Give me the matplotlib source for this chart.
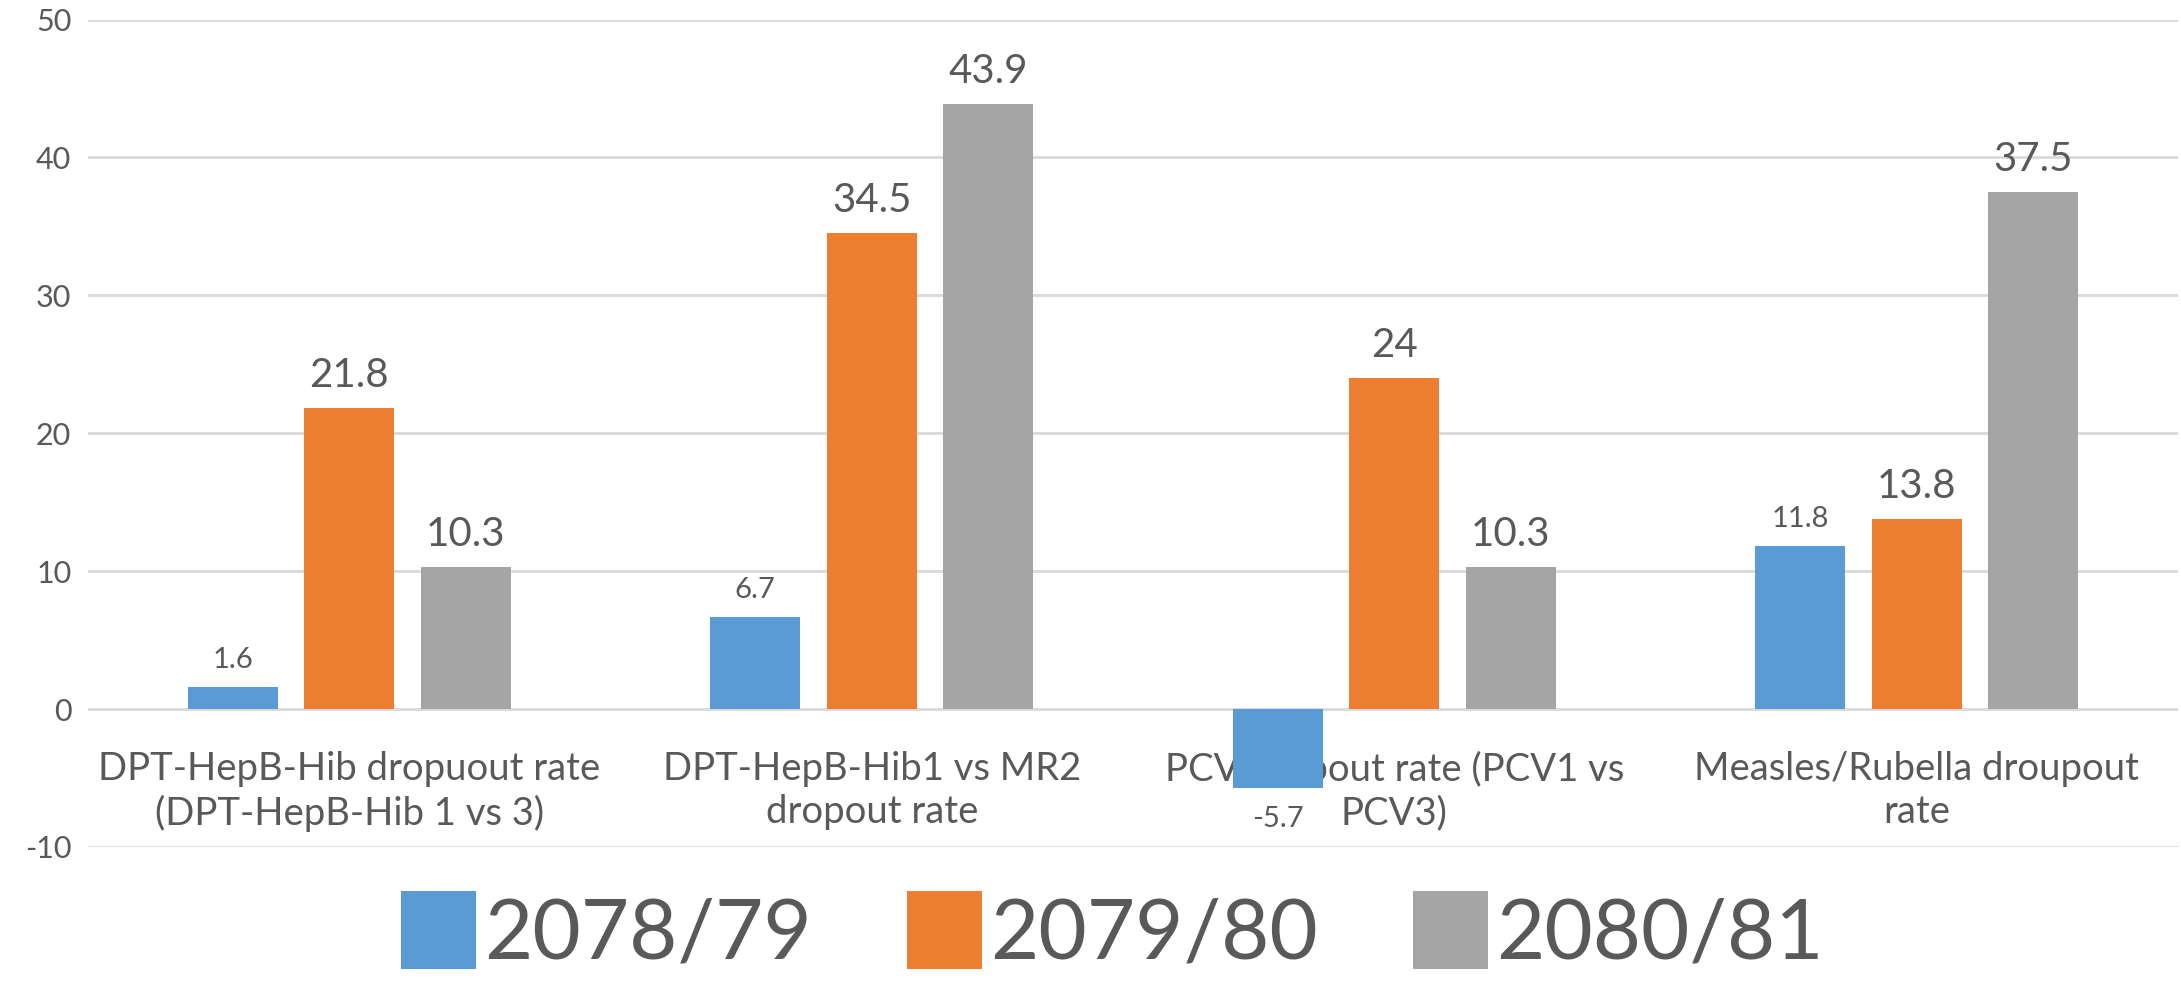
import matplotlib
matplotlib.use("Agg")
import matplotlib.pyplot as plt
from matplotlib.patches import Patch
import numpy as np

categories = ["DPT-HepB-Hib dropuout rate\n(DPT-HepB-Hib 1 vs 3)",
              "DPT-HepB-Hib1 vs MR2\ndropout rate",
              "PCV dropout rate (PCV1 vs\nPCV3)",
              "Measles/Rubella droupout\nrate"]
series_names = ["2078/79", "2079/80", "2080/81"]
v_2078 = [1.6, 6.7, -5.7, 11.8]
v_2079 = [21.8, 34.5, 24, 13.8]
v_2080 = [10.3, 43.9, 10.3, 37.5]
label_2078 = ["1.6", "6.7", "-5.7", "11.8"]
label_2079 = ["21.8", "34.5", "24", "13.8"]
label_2080 = ["10.3", "43.9", "10.3", "37.5"]
yticks = [-10, 0, 10, 20, 30, 40, 50]

colors = ["#5B9BD5", "#ED7D31", "#A5A5A5"]
txt = "#595959"
plt.rcParams["font.family"] = ["Lato", "DejaVu Sans"]

fig = plt.figure(figsize=(21.81, 9.91), dpi=100)
ax = fig.add_axes([88/2181, 1 - 847/991, 1 - 88/2181 - 3/2181, (847 - 19.5)/991])

x = np.arange(len(categories))
w = 0.173
step = 0.223
series = [v_2078, v_2079, v_2080]
labels = [label_2078, label_2079, label_2080]
sizes = [21, 29, 29]
for i, (vals, labs) in enumerate(zip(series, labels)):
    xs = x + (i - 1) * step
    ax.bar(xs, vals, width=w, color=colors[i], zorder=3)
    for xi, v, lab in zip(xs, vals, labs):
        if v >= 0:
            ax.annotate(lab, (xi, v), xytext=(0, 14), textcoords="offset pixels",
                        ha="center", va="bottom", fontsize=sizes[i], color=txt, zorder=4)
        else:
            ax.annotate(lab, (xi, v), xytext=(0, -18), textcoords="offset pixels",
                        ha="center", va="top", fontsize=sizes[i], color=txt, zorder=4)

ax.set_xlim(-0.5, 3.5)
ax.set_ylim(-10, 50)
ax.set_yticks(yticks)
ax.set_yticklabels([str(t) for t in yticks])
ax.tick_params(axis="y", length=0, labelsize=22, labelcolor=txt, pad=12)
ax.tick_params(axis="x", length=0, labelbottom=False)
ax.grid(axis="y", color="#D9D9D9", linewidth=2, zorder=0)
ax.set_axisbelow(True)
for s in ax.spines.values():
    s.set_visible(False)

for xi, cat in zip(x, categories):
    ax.annotate(cat, (xi, 0), xytext=(0, -42), textcoords="offset pixels",
                ha="center", va="top", fontsize=27.5, color=txt, zorder=1,
                linespacing=1.25, annotation_clip=False)

handles = [Patch(facecolor=c, edgecolor="none") for c in colors]
fig.legend(handles, series_names, loc="center", bbox_to_anchor=(0.51, 1 - 932/991),
           ncol=3, frameon=False, fontsize=60, labelcolor=txt,
           handlelength=0.9, handleheight=1.07, handletextpad=0.1, columnspacing=1.14)

fig.savefig("out.png", dpi=100, facecolor="white")
